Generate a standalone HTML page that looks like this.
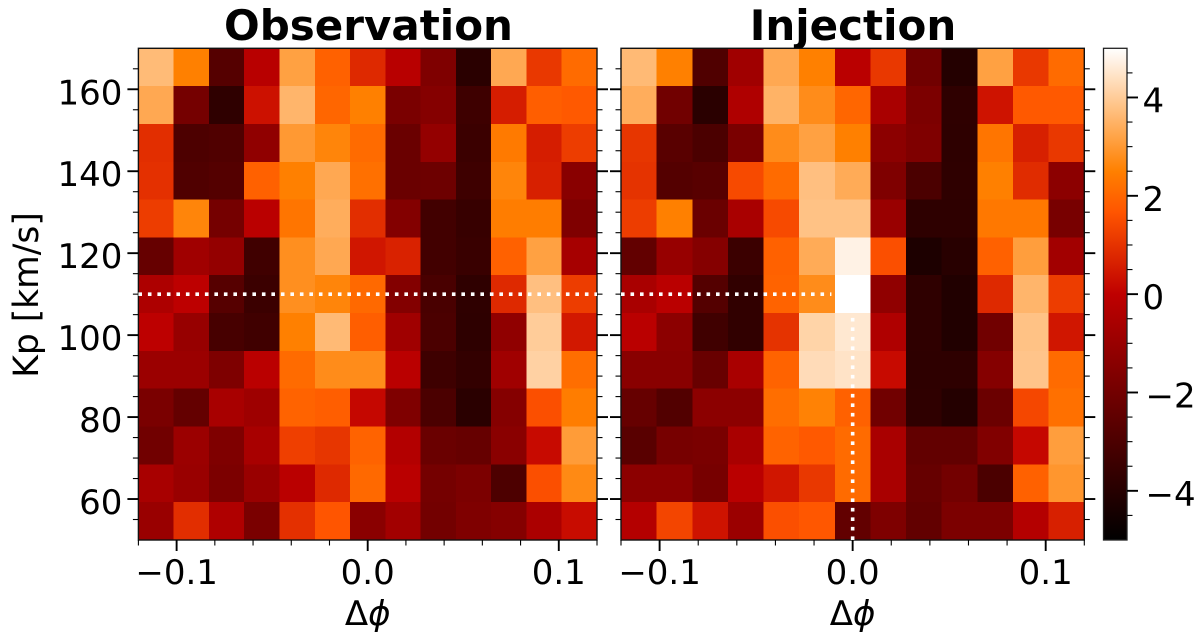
<!DOCTYPE html>
<html lang="en">
<head>
<meta charset="utf-8">
<title>Observation and Injection Kp maps</title>
<style>
html,body{margin:0;padding:0;background:#fff;width:1200px;height:639px;overflow:hidden}
svg{display:block}
text{font-family:"DejaVu Sans","Liberation Sans",sans-serif;fill:#000}
</style>
</head>
<body>
<svg id="figure" xmlns="http://www.w3.org/2000/svg" width="1200" height="639" viewBox="0 0 1200 639">
  <defs>
    <linearGradient id="heat" x1="0" y1="1" x2="0" y2="0">
      <stop offset="0" stop-color="#000000"/>
      <stop offset="0.5" stop-color="#bf0000"/>
      <stop offset="0.6667" stop-color="#ff5500"/>
      <stop offset="0.75" stop-color="#ff8000"/>
      <stop offset="1" stop-color="#ffffff"/>
    </linearGradient>
  </defs>
  <text x="368.5" y="40" font-size="42" font-weight="700" text-anchor="middle">Observation</text>
  <text x="853" y="40" font-size="42" font-weight="700" text-anchor="middle">Injection</text>
  <text transform="translate(38,295) rotate(-90)" font-size="34.5" text-anchor="middle">Kp [km/s]</text>
  <text x="367.7" y="625" font-size="34" text-anchor="middle">Δ<tspan font-style="italic">ϕ</tspan></text>
  <text x="852.6" y="625" font-size="34" text-anchor="middle">Δ<tspan font-style="italic">ϕ</tspan></text>
  <g id="plots"></g>
</svg>
<script>
const observationValues = [
  [3.67,2.5,-2.78,-0.19,3.15,1.9,0.81,-0.19,-1.67,-3.9,3.3,1.1,2.1],
  [3.3,-1.95,-3.76,0.33,3.55,2.0,2.5,-1.81,-1.52,-3.38,0.57,1.85,1.75],
  [0.9,-3.0,-2.9,-1.24,3.0,2.6,2.1,-2.24,-1.14,-3.47,2.4,0.57,1.2],
  [0.95,-2.9,-2.81,1.9,2.5,3.3,2.2,-2.24,-2.14,-3.38,2.6,0.62,-1.43],
  [1.2,2.6,-1.95,-0.14,2.3,3.4,0.9,-1.57,-3.28,-3.57,2.45,2.45,-1.67],
  [-2.33,-0.81,-1.14,-3.33,2.8,3.3,0.43,0.67,-3.28,-3.52,1.9,3.15,-0.67],
  [-0.48,-0.05,-2.76,-3.47,2.8,2.6,2.05,-1.57,-3.09,-3.76,0.81,3.75,1.2],
  [-0.05,-1.05,-3.14,-3.33,2.5,3.65,1.85,-0.81,-3.05,-3.81,-1.24,4.0,0.48],
  [-0.95,-0.95,-1.71,-0.14,2.1,2.75,2.75,-0.14,-3.38,-3.67,-0.81,4.1,2.15],
  [-1.81,-2.38,-0.62,-0.86,1.95,1.85,0.14,-1.67,-3.05,-3.9,-1.52,1.55,2.45],
  [-2.05,-0.95,-1.67,-0.62,1.24,1.05,1.95,-0.33,-2.24,-2.33,-1.38,0.19,3.05],
  [-0.62,-1.0,-1.76,-1.0,-0.14,0.81,2.05,-0.14,-1.95,-1.76,-3.0,1.55,2.7],
  [-1.0,0.9,-0.43,-1.81,0.95,1.67,-1.38,-0.76,-2.0,-1.67,-1.52,-0.52,0.24]
];
const injectionValues = [
  [3.65,2.5,-2.9,-0.81,3.3,2.5,-0.14,1.1,-2.05,-4.05,3.15,1.1,2.1],
  [3.4,-2.05,-3.9,-0.43,3.5,2.75,2.0,-0.57,-1.76,-3.76,0.38,1.75,1.75],
  [1.05,-2.67,-3.05,-1.81,2.75,3.15,2.5,-1.33,-1.67,-3.81,2.3,0.62,1.1],
  [1.0,-2.81,-2.71,1.45,2.1,3.75,3.35,-1.67,-3.05,-3.76,2.5,0.86,-1.33],
  [1.2,2.5,-2.24,-0.57,1.45,3.8,3.8,-1.0,-3.81,-3.81,2.35,2.35,-1.86],
  [-2.43,-1.05,-1.52,-3.47,1.9,3.35,4.75,1.55,-4.24,-3.95,1.9,3.1,-0.76],
  [-0.57,-0.14,-2.81,-3.71,1.95,2.75,5.0,-1.24,-3.76,-4.14,0.81,3.55,1.2],
  [-0.14,-1.33,-3.33,-3.71,1.0,4.15,4.55,-0.43,-3.76,-4.14,-2.05,3.8,0.43],
  [-1.43,-1.43,-2.28,-0.57,1.95,4.3,4.45,0.19,-3.81,-3.81,-1.52,3.85,2.1],
  [-2.33,-2.86,-1.33,-1.33,2.15,2.55,1.9,-2.05,-3.76,-4.05,-2.19,1.4,2.2],
  [-2.67,-1.9,-1.81,-0.57,1.95,1.75,2.1,-0.57,-2.43,-2.43,-1.62,0.14,3.1],
  [-1.33,-1.33,-1.9,-0.14,0.43,1.1,2.1,-0.57,-2.33,-2.0,-3.05,1.9,2.95],
  [-0.29,1.35,0.38,-0.95,1.55,1.7,-2.43,-1.71,-2.43,-1.76,-1.76,-0.29,0.62]
];
const phaseLimits = [-0.12, 0.12];
const kpLimits = [50, 170];
const colorLimits = [-5, 5];
const phaseTicks = [-0.1, 0.0, 0.1];
const phaseTickLabels = ["\u22120.1", "0.0", "0.1"];
const phaseMinorTicks = [-0.12,-0.08,-0.06,-0.04,-0.02,0.02,0.04,0.06,0.08,0.12];
const kpTicks = [60, 80, 100, 120, 140, 160];
const kpTickLabels = ["60", "80", "100", "120", "140", "160"];
const kpMinorTicks = [55,65,70,75,85,90,95,105,110,115,125,130,135,145,150,155,165];
const colorTicks = [-4, -2, 0, 2, 4];
const colorTickLabels = ["\u22124", "\u22122", "0", "2", "4"];
const colorMinorTicks = [-4.5,-3.5,-3,-2.5,-1.5,-1,-0.5,0.5,1,1.5,2.5,3,3.5,4.5];
const targetKp = [110];
const targetPhase = [0];
const injectionLineEnds = [-0.011, 106];

const NS = 'http://www.w3.org/2000/svg';
const root = document.getElementById('plots');

function make(tag, attrs, parent) {
  const el = document.createElementNS(NS, tag);
  for (const k in attrs) el.setAttribute(k, attrs[k]);
  parent.appendChild(el);
  return el;
}
function heatColor(v) {
  const x = Math.max(0, Math.min(1, (v - colorLimits[0]) / (colorLimits[1] - colorLimits[0])));
  const r = Math.min(1, 1.5 * x);
  const g = Math.max(0, 2 * x - 1);
  const b = Math.max(0, 4 * x - 3);
  return 'rgb(' + Math.round(r * 255) + ',' + Math.round(g * 255) + ',' + Math.round(b * 255) + ')';
}
const panelTop = 48.3, panelBottom = 540;
function yScale(kp) {
  return panelBottom + (kp - kpLimits[0]) * (panelTop - panelBottom) / (kpLimits[1] - kpLimits[0]);
}
function makeXScale(left, right) {
  return function (p) {
    return left + (p - phaseLimits[0]) * (right - left) / (phaseLimits[1] - phaseLimits[0]);
  };
}
function tickLine(parent, x1, y1, x2, y2, w) {
  return make('line', {x1: x1, y1: y1, x2: x2, y2: y2, stroke: '#000', 'stroke-width': w}, parent);
}

function drawPanel(name, values, left, right, showYLabels) {
  const xScale = makeXScale(left, right);
  const g = make('g', {}, root);
  
  
  const nRows = values.length;
  const nCols = values[0].length;
  const dP = (phaseLimits[1] - phaseLimits[0]) / nCols;
  const dK = (kpLimits[1] - kpLimits[0]) / nRows;
  values.forEach(function (row, r) {
    row.forEach(function (v, c) {
      const x0 = xScale(phaseLimits[0] + c * dP);
      const x1 = xScale(phaseLimits[0] + (c + 1) * dP);
      const y0 = yScale(kpLimits[1] - r * dK);
      const y1 = yScale(kpLimits[1] - (r + 1) * dK);
      const cell = make('rect', {x: x0, y: y0, width: x1 - x0, height: y1 - y0, fill: heatColor(v), 'shape-rendering': 'crispEdges'}, g);
      
      
    });
  });
  const frame = make('rect', {x: left, y: panelTop, width: right - left, height: panelBottom - panelTop, fill: 'none', stroke: '#111', 'stroke-width': 1.4}, g);
  
  

  phaseTicks.forEach(function (t, i) {
    const x = xScale(t);
    const tick = tickLine(g, x, panelBottom, x, panelBottom + 11, 1.9);
    
    
    const label = make('text', {x: x, y: 584, 'font-size': 34, 'text-anchor': 'middle'}, g);
    label.textContent = phaseTickLabels[i];
    
    
  });
  phaseMinorTicks.forEach(function (t) {
    const x = xScale(t);
    const tick = tickLine(g, x, panelBottom, x, panelBottom + 5.5, 1.1);
    
    
  });
  kpTicks.forEach(function (t, i) {
    const y = yScale(t);
    const tickL = tickLine(g, left - 11, y, left, y, 1.9);
    
    
    const tickR = tickLine(g, right, y, right + 11, y, 1.9);
    
    
    if (showYLabels) {
      const label = make('text', {x: left - 16, y: y + 15, 'font-size': 34, 'text-anchor': 'end'}, g);
      label.textContent = kpTickLabels[i];
      
      
    }
  });
  kpMinorTicks.forEach(function (t) {
    const y = yScale(t);
    const tickL = tickLine(g, left - 5.5, y, left, y, 1.1);
    
    
    const tickR = tickLine(g, right, y, right + 5.5, y, 1.1);
    
    
  });
  return {g: g, xScale: xScale};
}

const dotStyle = {stroke: '#fff', 'stroke-width': 3.6, 'stroke-dasharray': '3.6 5.9', fill: 'none'};

const obs = drawPanel('observation', observationValues, 138.4, 597, true);
const obsLine = make('line', Object.assign({x1: obs.xScale(phaseLimits[0]), y1: yScale(targetKp[0]), x2: obs.xScale(phaseLimits[1]), y2: yScale(targetKp[0])}, dotStyle), obs.g);



const inj = drawPanel('injection', injectionValues, 621, 1084.3, false);
const injH = make('line', Object.assign({x1: inj.xScale(phaseLimits[0]), y1: yScale(targetKp[0]), x2: inj.xScale(injectionLineEnds[0]), y2: yScale(targetKp[0])}, dotStyle), inj.g);


const injV = make('line', Object.assign({x1: inj.xScale(targetPhase[0]), y1: yScale(kpLimits[0]), x2: inj.xScale(targetPhase[0]), y2: yScale(injectionLineEnds[1])}, dotStyle), inj.g);



const cbLeft = 1103.5, cbRight = 1127;
function cScale(v) {
  return panelBottom + (v - colorLimits[0]) * (panelTop - panelBottom) / (colorLimits[1] - colorLimits[0]);
}
const cb = make('g', {}, root);


const cbBar = make('rect', {x: cbLeft, y: panelTop, width: cbRight - cbLeft, height: panelBottom - panelTop, fill: 'url(#heat)', stroke: '#222', 'stroke-width': 1.3}, cb);


colorTicks.forEach(function (t, i) {
  const y = cScale(t);
  const tick = tickLine(cb, cbRight, y, cbRight + 11, y, 1.9);
  
  
  const label = make('text', {x: t < 0 ? 1145.5 : 1142.5, y: y + 15, 'font-size': 34}, cb);
  label.textContent = colorTickLabels[i];
  
  
});
colorMinorTicks.forEach(function (t) {
  const y = cScale(t);
  const tick = tickLine(cb, cbRight, y, cbRight + 5.5, y, 1.1);
  
  
});
</script>
</body>
</html>
